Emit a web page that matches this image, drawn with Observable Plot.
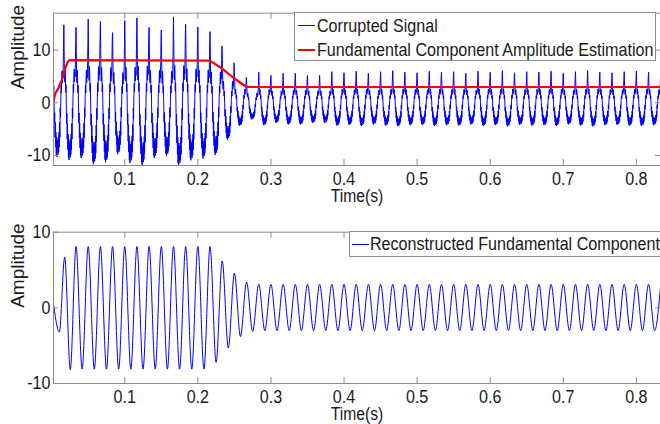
<!DOCTYPE html>
<html>
<head>
<meta charset="utf-8">
<script src="https://cdn.jsdelivr.net/npm/d3@7"></script>
<script src="https://cdn.jsdelivr.net/npm/@observablehq/plot@0.6"></script>
<style>
  body { margin: 0; background: #fff; }
  #wrap { position: relative; width: 660px; height: 424px; overflow: hidden; background: #fff; }
  #wrap svg { position: absolute; left: 0; }
  .legend { position: absolute; background: #fff; border: 1px solid #8c8c8c; box-sizing: border-box;
            font-family: "Liberation Sans", Arial, sans-serif; font-size: 18.5px; color: #1a1a1a; }
  .legend .sample { position: absolute; height: 0; }
  .legend .label { position: absolute; line-height: 20px; white-space: nowrap; transform: scaleX(0.87); transform-origin: 0 50%; }
</style>
</head>
<body>
<div id="wrap"></div>
<script>
// ---------------- data ----------------
const f0 = 60;                                   // fundamental frequency (Hz)
const xDomain = [0.0025, 0.833];                 // time axis (s)
const xTicks = [0.1, 0.2, 0.3, 0.4, 0.5, 0.6, 0.7, 0.8];
const yTicks = [-10, 0, 10];
const topYDomain = [-11.9, 17];
const bottomYDomain = [-10, 10];

// one cycle of the corrupted signal (read from the first regime, peak first), 40 samples/cycle
const corruptShape = [15, 10, 5, 4, 6.5, 5, 2, 3.5, 0, -4,
                      -2, -7, -4, -9, -6, -10.5, -7, -11, -8, -10,
                      -7.5, -10.5, -7, -10, -6, -9, -4, -7, -1, -3,
                      1, 3.5, 2, 5, 6.5, 4, 6, 5, 8, 12];
// peak of the corrupted signal for each cycle k (peak at t = k/60)
const corruptPeaks = [14.0, 14.8, 14.3, 15.9, 15.4, 13.3, 15.6, 16.1, 14.3, 13.8,
                      16.3, 14.9, 14.4, 13.5, 9.5, 6.0, 4.3, 5.8, 5.2, 5.6,
                      5.6, 5.2, 5.2, 5.9, 5.7, 6.0, 5.6, 5.9, 6.1, 5.8,
                      5.7, 6.0, 5.8, 5.9, 5.6, 6.0, 5.8, 6.1, 5.7, 5.9,
                      5.8, 6.0, 5.6, 5.9, 6.1, 5.8, 5.7, 5.9, 6.0, 5.8, 5.9];

// fundamental amplitude estimation (red line)
const estT = [0.0025, 0.005, 0.009, 0.0144, 0.0189, 0.0225, 0.0245, 0.2163, 0.2332, 0.2491, 0.2665, 0.833];
const estV = [0.3, 1.8, 2.7, 4.5, 6.7, 7.9, 8.1, 8.0, 6.5, 4.7, 3.0, 3.0];

// reconstructed fundamental: early transient extrema, then extrema at t = j/120 (j = 4..100)
const reconEarlyT = [0.0025, 0.0105, 0.0178, 0.0255];
const reconEarlyV = [0.5, -3.2, 6.7, -8.2];
const reconExtrema = [
  8.1, -8.1, 8.1, -8.1, 8.1, -8.1, 8.1, -8.1, 8.1, -8.1,
  8.1, -8.1, 8.1, -8.1, 8.1, -8.1, 8.1, -8.1, 8.1, -8.1,
  8.1, -8.1, 8.1,
  -7.2, 6.2, -5.3, 4.6, -3.8, 3.4, -3.1, 3.1,
  -3.0, 3.1, -3.0, 3.1, -3.0, 3.1, -3.0, 3.1, -3.0, 3.1,
  -3.0, 3.1, -3.0, 3.1, -3.0, 3.1, -3.0, 3.1, -3.0, 3.1,
  -3.0, 3.1, -3.0, 3.1, -3.0, 3.1, -3.0, 3.1, -3.0, 3.1,
  -3.0, 3.1, -3.0, 3.1, -3.0, 3.1, -3.0, 3.1, -3.0, 3.1,
  -3.0, 3.1, -3.0, 3.1, -3.0, 3.1, -3.0, 3.1, -3.0, 3.1,
  -3.0, 3.1, -3.0, 3.1, -3.0, 3.1, -3.0, 3.1, -3.0, 3.1,
  -3.0, 3.1, -3.0, 3.1, -3.0, 3.1
];

const legendTop = ["Corrupted Signal", "Fundamental Component Amplitude Estimation"];
const legendBottom = ["Reconstructed Fundamental Component"];
const xLabel = "Time(s)";
const yLabel = "Amplitude";

// ---------------- build tables ----------------
const corrupted = [];
corruptPeaks.forEach((pk, k) => {
  corruptShape.forEach((v, j) => {
    corrupted.push({ t: (k + j / corruptShape.length) / f0, v: v * pk / corruptShape[0] });
  });
});
const estimation = estT.map((t, i) => ({ t, v: estV[i] }));
const recon = reconEarlyT.map((t, i) => ({ t, v: reconEarlyV[i] }))
  .concat(reconExtrema.map((v, i) => ({ t: (i + 4) / (2 * f0), v })));

// ---------------- styles ----------------
const W = 660, ML = 53;
const axisColor = "#8c8c8c";
const font = '"Liberation Sans", Arial, sans-serif';
const blue = "#0000ff", red = "#ff0000";
const SX = 0.87;   // horizontal squeeze of the reference's lettering

function panel({ height, mt, mb, yDomain, dataMarks }) {
  const ph = height - mt - mb;
  const pw = W - ML;
  return Plot.plot({
    width: W, height, marginTop: mt, marginBottom: mb, marginLeft: ML, marginRight: 0,
    style: { fontFamily: font, fontSize: "18.5px", color: "#1a1a1a", background: "#fff" },
    x: { domain: xDomain, ticks: xTicks, tickSize: 0, tickPadding: 6.5, tickFormat: d => String(d), label: null },
    y: { domain: yDomain, ticks: yTicks, tickSize: 0, tickPadding: 3, tickFormat: d => String(d), label: null },
    marks: [
      ...dataMarks,
      Plot.ruleY([yDomain[1]], { stroke: axisColor }),
      Plot.ruleY([yDomain[0]], { stroke: axisColor }),
      Plot.ruleX([xDomain[0]], { stroke: axisColor }),
      Plot.tickX(xTicks, { x: d => d, insetTop: ph - 6, stroke: axisColor }),
      Plot.tickX(xTicks, { x: d => d, insetBottom: ph - 6, stroke: axisColor }),
      Plot.tickY(yTicks, { y: d => d, insetRight: pw - 5, stroke: axisColor }),
      Plot.tickY(yTicks, { y: d => d, insetLeft: pw - 5, stroke: axisColor }),
      Plot.text([xLabel], { text: d => d, frameAnchor: "bottom", lineAnchor: "top", dy: 24, fontSize: 18, fill: "#1a1a1a" }),
      Plot.text([yLabel], { text: d => d, frameAnchor: "left", rotate: -90, dx: -36, fontSize: 19, fill: "#1a1a1a" })
    ]
  });
}

const topPlot = panel({
  height: 210, mt: 12.7, mb: 45, yDomain: topYDomain,
  dataMarks: [
    Plot.line(corrupted, { x: "t", y: "v", stroke: blue, strokeWidth: 1, clip: true }),
    Plot.line(estimation, { x: "t", y: "v", stroke: red, strokeWidth: 2.2, clip: true })
  ]
});
const bottomPlot = panel({
  height: 214, mt: 21.7, mb: 41, yDomain: bottomYDomain,
  dataMarks: [
    Plot.line(recon, { x: "t", y: "v", stroke: blue, strokeWidth: 1, curve: "monotone-x", clip: true })
  ]
});

const wrap = document.getElementById("wrap");
topPlot.style.top = "0px";
bottomPlot.style.top = "210px";
wrap.appendChild(topPlot);
wrap.appendChild(bottomPlot);

// squeeze horizontal lettering about its anchor, as in the reference
function condense(svg) {
  svg.querySelectorAll("text").forEach(t => {
    const prev = t.getAttribute("transform") || "";
    if (prev.includes("rotate")) return;
    const b = t.getBBox();
    const anchor = getComputedStyle(t).textAnchor;
    const ax = anchor === "end" ? b.x + b.width : anchor === "middle" ? b.x + b.width / 2 : b.x;
    t.setAttribute("transform", `${prev} translate(${ax},0) scale(${SX},1) translate(${-ax},0)`);
  });
}
condense(topPlot);
condense(bottomPlot);

function legend({ left, top, width, height, items, sampleLeft, textLeft, rowCenters }) {
  const box = document.createElement("div");
  box.className = "legend";
  Object.assign(box.style, { left: left + "px", top: top + "px", width: width + "px", height: height + "px" });
  items.forEach((it, i) => {
    const s = document.createElement("div");
    s.className = "sample";
    Object.assign(s.style, { left: sampleLeft + "px", width: "17px", top: Math.round(rowCenters[i] - it.w / 2) + "px",
      borderTop: Math.round(it.w) + "px solid " + it.color });
    const l = document.createElement("div");
    l.className = "label";
    Object.assign(l.style, { left: textLeft + "px", top: (rowCenters[i] - 10) + "px" });
    l.textContent = it.label;
    box.appendChild(s);
    box.appendChild(l);
  });
  wrap.appendChild(box);
}

legend({ left: 294, top: 12, width: 362, height: 49, sampleLeft: 3, textLeft: 22,
  rowCenters: [12.5, 36.5],
  items: [{ label: legendTop[0], color: blue, w: 1 }, { label: legendTop[1], color: red, w: 2 }] });
legend({ left: 349, top: 231, width: 320, height: 26, sampleLeft: 2, textLeft: 20,
  rowCenters: [12],
  items: [{ label: legendBottom[0], color: blue, w: 1 }] });
</script>
</body>
</html>
